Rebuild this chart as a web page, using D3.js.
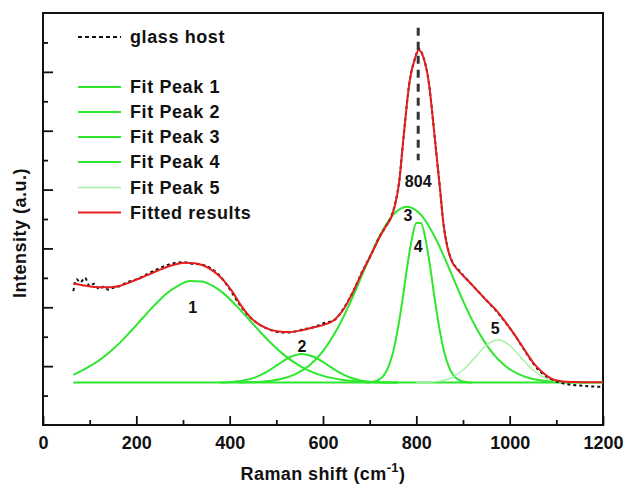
<!DOCTYPE html>
<html>
<head>
<meta charset="utf-8">
<script src="https://cdn.jsdelivr.net/npm/d3@7.9.0/dist/d3.min.js"></script>
<style>
  body { margin: 0; background: #fff; }
  svg text { font-family: "Liberation Sans", Arial, sans-serif; font-weight: bold; fill: #111; }
</style>
</head>
<body>
<svg id="chart" width="626" height="488"></svg>
<script>
// baseline of the fitted peaks (a.u.)
const baseline = 1.44;

// fit peaks: [Raman shift, height above baseline]
const peak1 = [[65,0.26],[90,0.47],[115,0.70],[140,1.00],[165,1.36],[190,1.78],[215,2.22],[240,2.65],[265,3.03],[290,3.30],[315,3.45],[340,3.44],[365,3.28],[390,2.99],[415,2.60],[440,2.17],[465,1.73],[490,1.32],[515,0.96],[540,0.67],[565,0.44],[590,0.28],[615,0.17],[640,0.10],[665,0.056],[690,0.03],[720,0.01],[760,0]];
const peak2 = [[380,0.006],[405,0.022],[430,0.07],[455,0.18],[480,0.37],[505,0.63],[530,0.87],[555,0.97],[580,0.88],[605,0.65],[630,0.39],[655,0.19],[680,0.076],[705,0.025],[730,0.007],[760,0]];
const peak3 = [[420,0.006],[450,0.018],[480,0.05],[510,0.124],[540,0.28],[570,0.57],[600,1.07],[630,1.81],[660,2.78],[690,3.89],[720,4.94],[750,5.70],[780,5.98],[810,5.70],[840,4.94],[870,3.89],[900,2.78],[930,1.81],[960,1.07],[990,0.57],[1020,0.28],[1050,0.124],[1080,0.05],[1110,0.018],[1140,0.006],[1170,0]];
const peak4 = [[690,0],[700,0.012],[710,0.037],[720,0.10],[730,0.24],[740,0.53],[750,1.02],[760,1.79],[770,2.78],[780,3.89],[790,4.85],[800,5.42],[810,5.42],[820,4.85],[830,3.89],[840,2.78],[850,1.79],[860,1.02],[870,0.53],[880,0.24],[890,0.10],[900,0.037],[910,0.012],[920,0]];
const peak5 = [[800,0.002],[825,0.011],[850,0.049],[875,0.165],[900,0.43],[925,0.84],[950,1.27],[975,1.45],[1000,1.27],[1025,0.84],[1050,0.43],[1075,0.165],[1100,0.049],[1125,0.011],[1150,0.002]];

// measured spectrum (glass host)
const glassHost = [[65,4.55],[72,4.95],[80,4.85],[90,5.00],[100,4.72],[110,4.80],[120,4.62],[130,4.70],[140,4.60],[150,4.66],[165,4.72],[180,4.85],[200,4.95],[220,5.10],[240,5.26],[260,5.40],[280,5.50],[300,5.53],[320,5.48],[340,5.45],[360,5.32],[380,5.05],[400,4.62],[420,4.12],[440,3.72],[460,3.45],[480,3.28],[500,3.17],[520,3.14],[540,3.18],[560,3.26],[580,3.32],[600,3.45],[625,3.58],[645,3.98],[665,4.55],[685,5.25],[705,5.85],[722,6.42],[735,6.75],[746,7.08],[755,7.55],[763,8.25],[772,9.68],[786,11.72],[797,12.45],[805,12.78],[815,12.5],[826,11.72],[840,9.68],[851,7.98],[858,6.85],[866,6.10],[875,5.62],[890,5.28],[910,4.92],[930,4.58],[950,4.24],[970,3.90],[990,3.50],[1010,3.08],[1030,2.58],[1050,2.10],[1070,1.75],[1090,1.55],[1110,1.43],[1130,1.37],[1150,1.34],[1175,1.31],[1200,1.30]];

// fitted result
const fitted = [[65,4.81],[85,4.75],[105,4.70],[125,4.68],[145,4.68],[165,4.73],[185,4.84],[205,4.97],[225,5.10],[245,5.24],[265,5.37],[285,5.46],[305,5.51],[325,5.50],[345,5.41],[365,5.23],[385,4.95],[405,4.55],[425,4.05],[445,3.65],[465,3.40],[485,3.25],[505,3.18],[530,3.16],[555,3.22],[580,3.32],[605,3.42],[625,3.58],[645,3.95],[665,4.55],[685,5.22],[705,5.85],[722,6.40],[735,6.75],[746,7.05],[755,7.52],[763,8.22],[772,9.68],[786,11.72],[797,12.45],[805,12.74],[815,12.5],[826,11.72],[840,9.68],[851,7.98],[858,6.85],[866,6.08],[875,5.60],[890,5.25],[910,4.92],[930,4.58],[950,4.24],[970,3.92],[990,3.52],[1010,3.08],[1030,2.60],[1050,2.13],[1070,1.79],[1090,1.57],[1110,1.49],[1140,1.46],[1170,1.45],[1200,1.45]];

const xTicks = [0, 200, 400, 600, 800, 1000, 1200];
const legendLabels = ['glass host', 'Fit Peak 1', 'Fit Peak 2', 'Fit Peak 3', 'Fit Peak 4', 'Fit Peak 5', 'Fitted results'];
const peakLabels = [
  { text: '1', x: 321, y: 3.98 },
  { text: '2', x: 555, y: 2.68 },
  { text: '3', x: 782, y: 7.12 },
  { text: '4', x: 804, y: 6.07 },
  { text: '5', x: 969, y: 3.28 },
  { text: '804', x: 804, y: 8.28 }
];
const markerShift = 804;

const green = '#2ee62e';
const lightGreen = '#a4f0a4';
const red = '#e41e1e';

const svg = d3.select('#chart');
const x = d3.scaleLinear().domain([0, 1200]).range([43, 603]);
const y = d3.scaleLinear().domain([0, 14]).range([425, 13]);

// axes (ticks inside)
svg.append('g').attr('transform', 'translate(0,425)')
  .call(d3.axisBottom(x).tickValues(xTicks).tickSize(-9).tickPadding(11).tickFormat(d3.format('d')))
  .call(g => g.select('.domain').remove())
  .call(g => g.selectAll('text').style('font-size', '18px').attr('fill', '#111'))
  .call(g => g.selectAll('line').attr('stroke', '#111').attr('stroke-width', 1.8));
svg.append('g').attr('transform', 'translate(0,425)')
  .call(d3.axisBottom(x).tickValues(d3.range(100, 1200, 200)).tickSize(-5).tickFormat(''))
  .call(g => g.select('.domain').remove())
  .call(g => g.selectAll('line').attr('stroke', '#111').attr('stroke-width', 1.8));
svg.append('g').attr('transform', 'translate(43,0)')
  .call(d3.axisLeft(y).tickValues(d3.range(2, 14, 2)).tickSize(-10).tickFormat(''))
  .call(g => g.select('.domain').remove())
  .call(g => g.selectAll('line').attr('stroke', '#111').attr('stroke-width', 1.8));
svg.append('g').attr('transform', 'translate(43,0)')
  .call(d3.axisLeft(y).tickValues(d3.range(1, 14, 2)).tickSize(-5).tickFormat(''))
  .call(g => g.select('.domain').remove())
  .call(g => g.selectAll('line').attr('stroke', '#111').attr('stroke-width', 1.8));

svg.append('rect')
  .attr('x', 43).attr('y', 13).attr('width', 560).attr('height', 412)
  .attr('fill', 'none').attr('stroke', '#111').attr('stroke-width', 2);

const line = d3.line().x(d => x(d[0])).y(d => y(d[1])).curve(d3.curveMonotoneX);
const peakLine = d3.line().x(d => x(d[0])).y(d => y(baseline + d[1])).curve(d3.curveMonotoneX);

// green baseline
svg.append('path')
  .attr('d', line([[65, baseline], [1200, baseline]]))
  .attr('fill', 'none').attr('stroke', green).attr('stroke-width', 2);

[peak1, peak2, peak3, peak4].forEach(p => {
  svg.append('path').attr('d', peakLine(p))
    .attr('fill', 'none').attr('stroke', green).attr('stroke-width', 2);
});
svg.append('path').attr('d', peakLine(peak5))
  .attr('fill', 'none').attr('stroke', lightGreen).attr('stroke-width', 1.4);

svg.append('path').attr('d', line(glassHost))
  .attr('fill', 'none').attr('stroke', '#111').attr('stroke-width', 2)
  .attr('stroke-dasharray', '3,3');

svg.append('path').attr('d', line(fitted))
  .attr('fill', 'none').attr('stroke', red).attr('stroke-width', 2);

// vertical marker at 804
svg.append('line')
  .attr('x1', x(markerShift)).attr('x2', x(markerShift))
  .attr('y1', y(13.5)).attr('y2', y(9.0))
  .attr('stroke', '#333').attr('stroke-width', 3).attr('stroke-dasharray', '8,6');

// peak labels
svg.selectAll('.plabel').data(peakLabels).join('text')
  .attr('x', d => x(d.x)).attr('y', d => y(d.y))
  .attr('text-anchor', 'middle').attr('dominant-baseline', 'central')
  .style('font-size', '16px')
  .text(d => d.text);

// legend
const legendColors = ['#111', green, green, green, green, lightGreen, red];
const legendY = [37, 87, 112, 137, 162, 187.5, 212.5];
legendLabels.forEach((label, i) => {
  svg.append('line')
    .attr('x1', 78).attr('x2', 121).attr('y1', legendY[i]).attr('y2', legendY[i])
    .attr('stroke', legendColors[i]).attr('stroke-width', i === 5 ? 1.4 : 2)
    .attr('stroke-dasharray', i === 0 ? '4,3' : null);
  svg.append('text')
    .attr('x', 130).attr('y', legendY[i]).attr('dominant-baseline', 'central')
    .style('font-size', '18px').style('letter-spacing', '0.6px')
    .text(label);
});

// axis titles
const xt = svg.append('text').attr('x', 323).attr('y', 480)
  .attr('text-anchor', 'middle').style('font-size', '18px').style('letter-spacing', '0.4px');
xt.append('tspan').text('Raman shift (cm');
xt.append('tspan').attr('dy', -8).style('font-size', '13px').text('-1');
xt.append('tspan').attr('dy', 8).text(')');

svg.append('text')
  .attr('transform', 'translate(26,233) rotate(-90)')
  .attr('text-anchor', 'middle')
  .style('font-size', '18px').style('letter-spacing', '0.5px')
  .text('Intensity (a.u.)');
</script>
</body>
</html>
